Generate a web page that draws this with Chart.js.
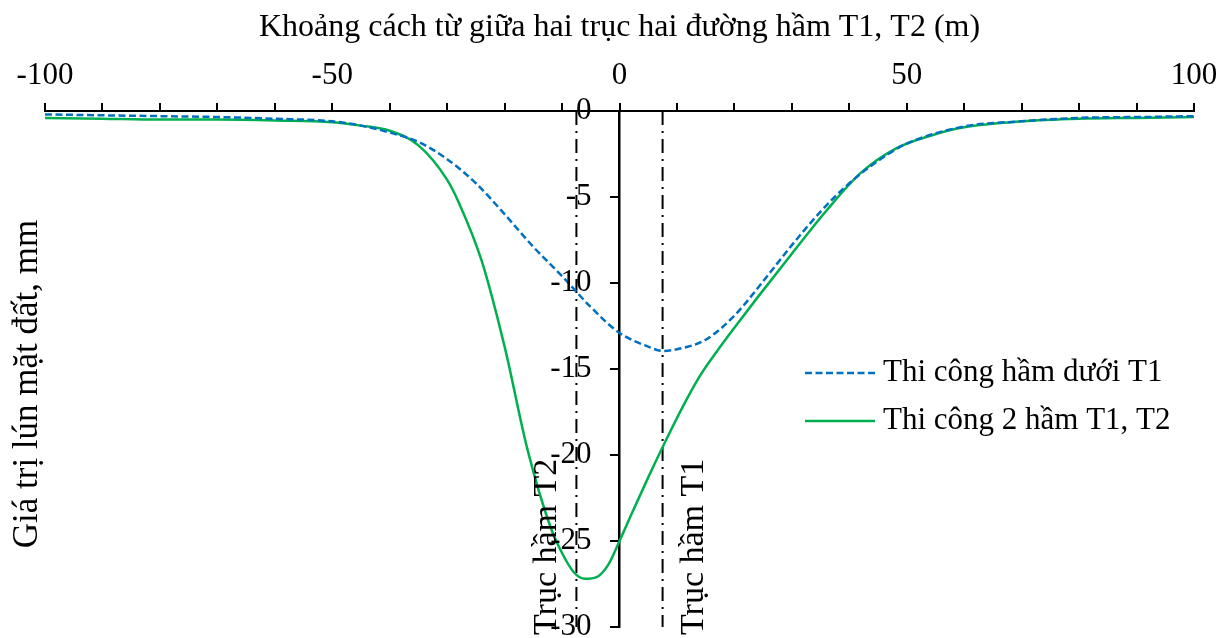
<!DOCTYPE html>
<html>
<head>
<meta charset="utf-8">
<script src="https://cdn.jsdelivr.net/npm/chart.js@4/dist/chart.umd.min.js"></script>
<style>
    html, body { margin: 0; padding: 0; background: #fff; }
    #wrap { width: 1227px; height: 638px; }
</style>
</head>
<body>
<div id="wrap"><canvas id="chart"></canvas></div>
<script>
const FONT = "'Liberation Serif', 'Times New Roman', serif"

// Thi công hầm dưới T1
const xT1 = [-100, -90, -80, -70, -60, -50, -45, -40, -35, -30, -25, -20, -15, -10, -5, 0, 5, 7.5, 10, 15, 20, 25, 30, 35, 40, 45, 50, 60, 70, 80, 90, 100]
const yT1 = [-0.2, -0.25, -0.3, -0.35, -0.45, -0.6, -0.85, -1.25, -1.8, -2.8, -4.2, -6.0, -7.9, -9.6, -11.4, -12.9, -13.7, -13.95, -13.85, -13.3, -11.9, -9.9, -7.8, -5.85, -4.2, -2.9, -1.9, -0.9, -0.6, -0.4, -0.35, -0.3]

// Thi công 2 hầm T1, T2
const xT12 = [-100, -90, -80, -70, -60, -50, -45, -40, -35, -30, -28, -24, -20, -16, -12, -10, -8, -6, -4, -2, 0, 2, 5, 8, 11, 14, 17, 20, 24, 30, 36, 42, 48, 54, 60, 70, 80, 90, 100]
const yT12 = [-0.4, -0.45, -0.5, -0.5, -0.55, -0.65, -0.85, -1.15, -2.0, -4.0, -5.3, -8.7, -13.7, -19.7, -24.2, -25.7, -26.8, -27.2, -27.1, -26.4, -25.0, -23.5, -21.3, -19.2, -17.2, -15.4, -13.95, -12.6, -10.85, -8.3, -5.8, -3.6, -2.2, -1.45, -0.95, -0.6, -0.45, -0.4, -0.35]

// trục hai đường hầm
const tunnelX = [-7.5, 7.5]
const tunnelNames = ['Trục hầm T2', 'Trục hầm T1']
const yRange = [0, -30]

const xTitle = 'Khoảng cách từ giữa hai trục hai đường hầm T1, T2 (m)'
const yTitle = 'Giá trị lún mặt đất, mm'
const seriesNames = ['Thi công hầm dưới T1', 'Thi công 2 hầm T1, T2']

const toPoints = (xs, ys) => xs.map((x, i) => ({ x: x, y: ys[i] }))

const extraText = {
    id: 'extraText',
    afterDraw(chart) {
        const ctx = chart.ctx
        const xs = chart.scales.x
        const ys = chart.scales.y
        const axisX = xs.getPixelForValue(0)
        ctx.save()
        ctx.fillStyle = '#000'

        // số trên trục tung (lùi khỏi trục)
        ctx.font = '31px ' + FONT
        ctx.textAlign = 'right'
        ctx.textBaseline = 'middle'
        ys.ticks.forEach(t => {
            ctx.fillText(t.label, axisX - 28, ys.getPixelForValue(t.value))
        })

        // nhãn trục tung
        ctx.save()
        ctx.font = '35px ' + FONT
        ctx.translate(28, 384)
        ctx.rotate(-Math.PI / 2)
        ctx.textAlign = 'center'
        ctx.textBaseline = 'middle'
        ctx.fillText(yTitle, 0, 0)
        ctx.restore()

        // nhãn trục hầm
        const offsets = [-29, 31]
        tunnelX.forEach((v, i) => {
            ctx.save()
            ctx.font = '34px ' + FONT
            ctx.translate(xs.getPixelForValue(v) + offsets[i], chart.height - 3)
            ctx.rotate(-Math.PI / 2)
            ctx.textAlign = 'left'
            ctx.textBaseline = 'middle'
            ctx.fillText(tunnelNames[i], 0, 0)
            ctx.restore()
        })

        // chú giải
        ctx.font = '31px ' + FONT
        const legendX = 805
        const rows = [373, 421]
        chart.data.datasets.filter(d => d.label).forEach((d, i) => {
            ctx.save()
            ctx.strokeStyle = d.borderColor
            ctx.lineWidth = d.borderWidth
            ctx.setLineDash(d.borderDash || [])
            ctx.beginPath()
            ctx.moveTo(legendX, rows[i])
            ctx.lineTo(legendX + 70, rows[i])
            ctx.stroke()
            ctx.restore()
            ctx.textAlign = 'left'
            ctx.textBaseline = 'middle'
            ctx.fillText(d.label, legendX + 78, rows[i])
        })
        ctx.restore()
    }
}

new Chart(document.getElementById('chart'), {
    type: 'line',
    data: {
        datasets: [
            {
                label: seriesNames[0],
                data: toPoints(xT1, yT1),
                borderColor: '#0070C0',
                borderWidth: 2.5,
                borderDash: [7, 3.5],
                pointRadius: 0,
                cubicInterpolationMode: 'monotone'
            },
            {
                label: seriesNames[1],
                data: toPoints(xT12, yT12),
                borderColor: '#00B050',
                borderWidth: 2.5,
                pointRadius: 0,
                cubicInterpolationMode: 'monotone'
            },
            ...tunnelX.map(v => ({
                data: yRange.map(y => ({ x: v, y: y })),
                borderColor: '#000',
                borderWidth: 2,
                borderDash: [14, 6, 2, 6],
                pointRadius: 0
            }))
        ]
    },
    options: {
        responsive: true,
        maintainAspectRatio: false,
        animation: false,
        layout: { padding: { left: 45, right: 33, top: 0, bottom: 11 } },
        plugins: {
            legend: { display: false },
            tooltip: { enabled: false }
        },
        scales: {
            x: {
                type: 'linear',
                position: 'top',
                min: -100,
                max: 100,
                ticks: {
                    stepSize: 10,
                    autoSkip: false,
                    maxRotation: 0,
                    padding: 9,
                    color: '#000',
                    font: { family: FONT, size: 31 },
                    callback: v => (v % 50 === 0 ? v : '')
                },
                grid: { drawOnChartArea: false, tickLength: 8, color: '#000', lineWidth: 2 },
                border: { color: '#000', width: 2 },
                title: {
                    display: true,
                    text: xTitle,
                    color: '#000',
                    font: { family: FONT, size: 32 },
                    padding: { top: 8, bottom: 0 }
                },
                afterFit: s => {
                    s.height = 111
                    s.paddingLeft = 0
                    s.paddingRight = 0
                }
            },
            y: {
                type: 'linear',
                position: { x: 0 },
                min: -30,
                max: 0,
                ticks: { stepSize: 5, display: false },
                grid: { drawOnChartArea: false, tickLength: 8, color: '#000', lineWidth: 2 },
                border: { color: '#000', width: 2.5 },
                afterFit: s => {
                    s.paddingTop = 0
                    s.paddingBottom = 0
                }
            }
        }
    },
    plugins: [extraText]
})
</script>
</body>
</html>
